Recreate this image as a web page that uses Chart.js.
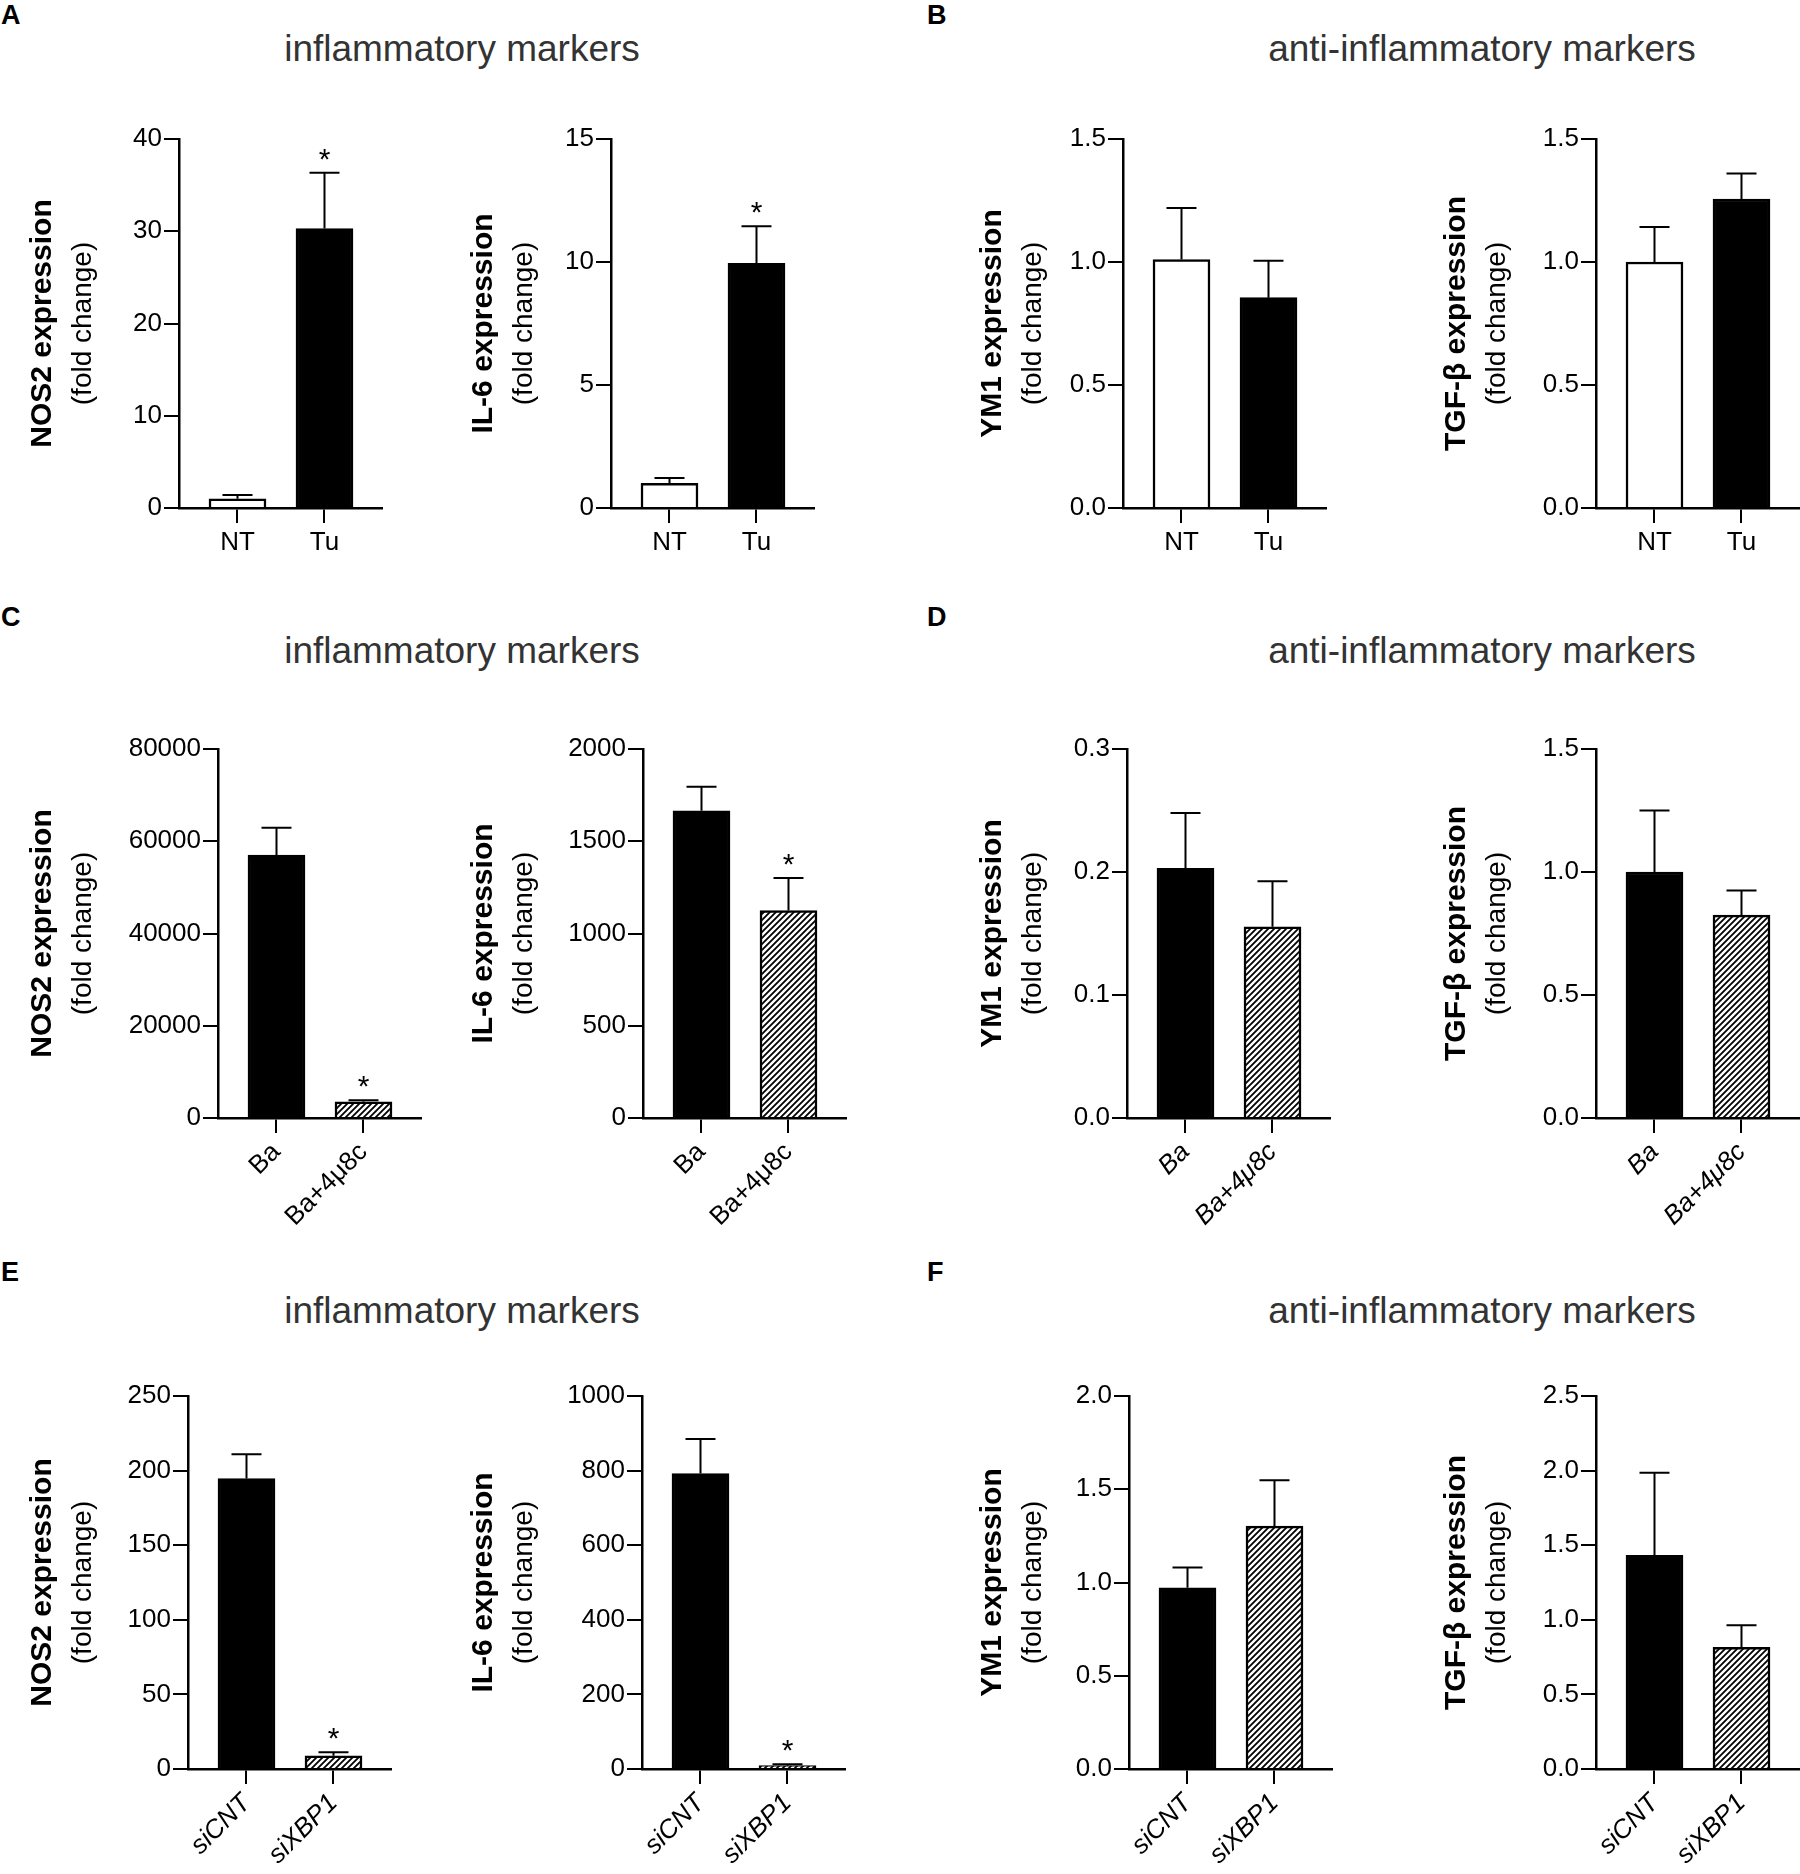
<!DOCTYPE html>
<html>
<head>
<meta charset="utf-8">
<script src="https://cdn.jsdelivr.net/npm/chart.js@4.4.0/dist/chart.umd.min.js"></script>
<style>
  html, body { margin: 0; padding: 0; background: #fff; }
  body { width: 1800px; height: 1874px; position: relative; overflow: hidden;
         font-family: "Liberation Sans", Arial, sans-serif; }
  .letter { position: absolute; font-weight: bold; font-size: 27px; line-height: 27px; color: #000; }
  .title { position: absolute; font-size: 37px; line-height: 37px; color: #333;
           transform: translateX(-50%); white-space: nowrap; }
  .panel { position: absolute; }
</style>
</head>
<body>
<div class="letter" style="left:1px;top:2px">A</div>
<div class="letter" style="left:927px;top:2px">B</div>
<div class="letter" style="left:1px;top:604px">C</div>
<div class="letter" style="left:927px;top:604px">D</div>
<div class="letter" style="left:1px;top:1259px">E</div>
<div class="letter" style="left:927px;top:1259px">F</div>

<div class="title" style="left:462px;top:30px">inflammatory markers</div>
<div class="title" style="left:1482px;top:30px">anti-inflammatory markers</div>
<div class="title" style="left:462px;top:632px">inflammatory markers</div>
<div class="title" style="left:1482px;top:632px">anti-inflammatory markers</div>
<div class="title" style="left:462px;top:1292px">inflammatory markers</div>
<div class="title" style="left:1482px;top:1292px">anti-inflammatory markers</div>

<script>
// group labels
const groupsTu = ['NT', 'Tu'];
const groupsBa = ['Ba', 'Ba+4μ8c'];
const groupsSi = ['siCNT', 'siXBP1'];

// A / B : NT vs tunicamycin
const nos2Tu = [1.0, 30.3];
const nos2TuErr = [0.4, 6.05];
const il6Tu = [1.0, 9.95];
const il6TuErr = [0.22, 1.5];
const ym1Tu = [1.01, 0.855];
const ym1TuErr = [0.21, 0.15];
const tgfTu = [1.0, 1.256];
const tgfTuErr = [0.142, 0.104];
const starsTu = [false, true];

// C / D : Ba vs Ba+4u8c
const nos2Ba = [57000, 3500];
const nos2BaErr = [5900, 350];
const il6Ba = [1665, 1124];
const il6BaErr = [130, 177];
const ym1Ba = [0.203, 0.1555];
const ym1BaErr = [0.045, 0.037];
const tgfBa = [1.0, 0.825];
const tgfBaErr = [0.25, 0.10];
const starsBa = [false, true];

// E / F : siCNT vs siXBP1
const nos2Si = [194.7, 8.9];
const nos2SiErr = [16.3, 2.3];
const il6Si = [792, 9];
const il6SiErr = [93, 3.6];
const ym1Si = [0.972, 1.302];
const ym1SiErr = [0.109, 0.246];
const tgfSi = [1.432, 0.815];
const tgfSiErr = [0.553, 0.148];
const starsSi = [false, true];
const noStars = [false, false];

// y axis ranges: [max, step]
const nos2TuTicks = [40, 10];
const il6TuTicks = [15, 5];
const antiTuTicks = [1.5, 0.5];
const nos2BaTicks = [80000, 20000];
const il6BaTicks = [2000, 500];
const ym1BaTicks = [0.3, 0.1];
const tgfBaTicks = [1.5, 0.5];
const nos2SiTicks = [250, 50];
const il6SiTicks = [1000, 200];
const ym1SiTicks = [2.0, 0.5];
const tgfSiTicks = [2.5, 0.5];

Chart.defaults.font.family = '"Liberation Sans", Arial, sans-serif';
Chart.defaults.color = '#000';

// diagonal hatch used for the treated bars
function makeHatch() {
  const c = document.createElement('canvas');
  c.width = 6; c.height = 6;
  const g = c.getContext('2d');
  g.fillStyle = '#fff';
  g.fillRect(0, 0, 6, 6);
  g.strokeStyle = '#000';
  g.lineWidth = 1.8;
  g.beginPath();
  g.moveTo(0, 6); g.lineTo(6, 0);
  g.moveTo(-1, 1); g.lineTo(1, -1);
  g.moveTo(5, 7); g.lineTo(7, 5);
  g.stroke();
  return g.createPattern(c, 'repeat');
}
const hatch = makeHatch();

// error bars (upper whisker only) and significance stars
const errorBars = {
  id: 'errorBars',
  afterDatasetsDraw(chart, args, opts) {
    const ctx = chart.ctx;
    const yScale = chart.scales.y;
    const meta = chart.getDatasetMeta(0);
    ctx.save();
    ctx.strokeStyle = '#000';
    ctx.fillStyle = '#000';
    ctx.lineWidth = 2;
    meta.data.forEach((bar, i) => {
      const yTop = yScale.getPixelForValue(opts.values[i] + opts.errors[i]);
      ctx.beginPath();
      ctx.moveTo(bar.x, bar.y);
      ctx.lineTo(bar.x, yTop);
      ctx.moveTo(bar.x - 15, yTop);
      ctx.lineTo(bar.x + 15, yTop);
      ctx.stroke();
      if (opts.stars[i]) {
        ctx.font = '30px "Liberation Sans", Arial, sans-serif';
        ctx.textAlign = 'center';
        ctx.textBaseline = 'alphabetic';
        ctx.fillText('*', bar.x, yTop - 4);
      }
    });
    ctx.restore();
  }
};

const rows = [
  { top: 139, zero: 508, xH: 62, rot: 0, italic: false },
  { top: 749, zero: 1118, xH: 130, rot: 45, italic: false },
  { top: 1396, zero: 1769, xH: 100, rot: 45, italic: true }
];
const colLeft = [0, 441, 950, 1414];

const panels = [
  { row: 0, col: 0, axisX: 179, label: 'NOS2 expression', groups: groupsTu, values: nos2Tu, errors: nos2TuErr, stars: starsTu, range: nos2TuTicks, dec: 0, fills: ['#fff', '#000'] },
  { row: 0, col: 1, axisX: 611, label: 'IL-6 expression', groups: groupsTu, values: il6Tu, errors: il6TuErr, stars: starsTu, range: il6TuTicks, dec: 0, fills: ['#fff', '#000'] },
  { row: 0, col: 2, axisX: 1123, label: 'YM1 expression', groups: groupsTu, values: ym1Tu, errors: ym1TuErr, stars: noStars, range: antiTuTicks, dec: 1, fills: ['#fff', '#000'] },
  { row: 0, col: 3, axisX: 1596, label: 'TGF-β expression', groups: groupsTu, values: tgfTu, errors: tgfTuErr, stars: noStars, range: antiTuTicks, dec: 1, fills: ['#fff', '#000'] },
  { row: 1, col: 0, axisX: 218, label: 'NOS2 expression', groups: groupsBa, values: nos2Ba, errors: nos2BaErr, stars: starsBa, range: nos2BaTicks, dec: 0, fills: ['#000', hatch] },
  { row: 1, col: 1, axisX: 643, label: 'IL-6 expression', groups: groupsBa, values: il6Ba, errors: il6BaErr, stars: starsBa, range: il6BaTicks, dec: 0, fills: ['#000', hatch] },
  { row: 1, col: 2, axisX: 1127, label: 'YM1 expression', groups: groupsBa, values: ym1Ba, errors: ym1BaErr, stars: noStars, range: ym1BaTicks, dec: 1, fills: ['#000', hatch], italic: true },
  { row: 1, col: 3, axisX: 1596, label: 'TGF-β expression', groups: groupsBa, values: tgfBa, errors: tgfBaErr, stars: noStars, range: tgfBaTicks, dec: 1, fills: ['#000', hatch], italic: true },
  { row: 2, col: 0, axisX: 188, label: 'NOS2 expression', groups: groupsSi, values: nos2Si, errors: nos2SiErr, stars: starsSi, range: nos2SiTicks, dec: 0, fills: ['#000', hatch] },
  { row: 2, col: 1, axisX: 642, label: 'IL-6 expression', groups: groupsSi, values: il6Si, errors: il6SiErr, stars: starsSi, range: il6SiTicks, dec: 0, fills: ['#000', hatch] },
  { row: 2, col: 2, axisX: 1129, label: 'YM1 expression', groups: groupsSi, values: ym1Si, errors: ym1SiErr, stars: noStars, range: ym1SiTicks, dec: 1, fills: ['#000', hatch] },
  { row: 2, col: 3, axisX: 1596, label: 'TGF-β expression', groups: groupsSi, values: tgfSi, errors: tgfSiErr, stars: noStars, range: tgfSiTicks, dec: 1, fills: ['#000', hatch] }
];

const AXIS_LEN = 203;
const TITLE_W = 63;
const PAD_TOP = 30;
const PAD_RIGHT = 2;

panels.forEach(p => {
  const row = rows[p.row];
  const left = colLeft[p.col];
  const width = p.axisX + AXIS_LEN + PAD_RIGHT - left;
  const height = (row.zero - row.top) + PAD_TOP + row.xH;
  const yW = p.axisX - left - TITLE_W;
  const italic = p.italic || row.italic;

  const box = document.createElement('div');
  box.className = 'panel';
  box.style.left = left + 'px';
  box.style.top = (row.top - PAD_TOP) + 'px';
  box.style.width = width + 'px';
  box.style.height = height + 'px';
  const canvas = document.createElement('canvas');
  canvas.width = width;
  canvas.height = height;
  box.appendChild(canvas);
  document.body.appendChild(box);

  const axisLine = { display: true, color: '#000', width: 2.5 };
  const tickMarks = { display: true, drawOnChartArea: false, drawTicks: true, tickLength: 15, color: '#000', lineWidth: 2, offset: false };

  new Chart(canvas, {
    type: 'bar',
    data: {
      datasets: [{
        data: p.values.map((v, i) => ({ x: i + 1, y: v })),
        backgroundColor: p.fills,
        borderColor: '#000',
        borderWidth: 2.5,
        barThickness: 57
      }]
    },
    options: {
      responsive: false,
      animation: false,
      devicePixelRatio: 1,
      layout: { padding: { top: PAD_TOP, right: PAD_RIGHT, bottom: 0, left: 0 } },
      plugins: {
        legend: { display: false },
        tooltip: { enabled: false },
        errorBars: { values: p.values, errors: p.errors, stars: p.stars }
      },
      scales: {
        x: {
          type: 'linear',
          offset: false,
          bounds: 'ticks',
          min: 0.3276,
          max: 2.661,
          afterBuildTicks: s => { s.ticks = [{ value: 1 }, { value: 2 }]; },
          afterFit: s => { s.height = row.xH; },
          grid: tickMarks,
          border: axisLine,
          ticks: {
            autoSkip: false,
            callback: (v, i) => p.groups[i],
            font: { size: 26, style: italic ? 'italic' : 'normal' },
            color: '#000',
            padding: 4,
            minRotation: row.rot,
            maxRotation: row.rot
          }
        },
        y: {
          min: 0,
          max: p.range[0],
          afterFit: s => { s.width = yW; },
          grid: tickMarks,
          border: axisLine,
          ticks: {
            stepSize: p.range[1],
            callback: v => Number(v).toFixed(p.dec),
            font: { size: 26 },
            color: '#000',
            padding: 2
          },
          title: {
            display: true,
            text: '(fold change)',
            font: { size: 28 },
            color: '#000',
            padding: { top: 3, bottom: 0 }
          }
        },
        y2: {
          position: 'left',
          weight: 1,
          display: true,
          afterFit: s => { s.width = TITLE_W; },
          grid: { display: false },
          border: { display: false },
          ticks: { display: false },
          title: {
            display: true,
            text: p.label,
            font: { size: 30, weight: 'bold' },
            color: '#000',
            padding: { top: 25, bottom: 0 }
          }
        }
      }
    },
    plugins: [errorBars]
  });
});
</script>
</body>
</html>
